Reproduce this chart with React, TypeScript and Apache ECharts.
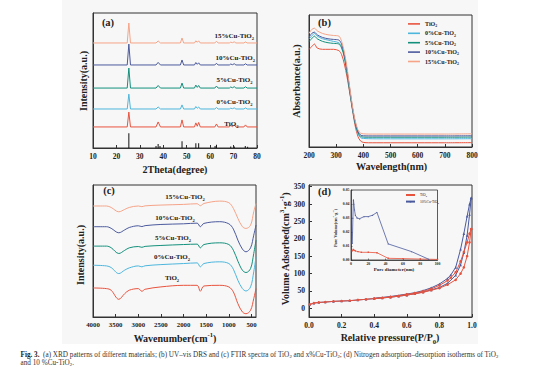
import React, { useEffect, useRef } from 'react';
import * as echarts from 'echarts';

const FONT = '"Liberation Serif", "Times New Roman", Times, serif';
const INK = '#222222';

// ---------- series names & colours ----------
const sampleNames = ['TiO2', '0%Cu-TiO2', '5%Cu-TiO2', '10%Cu-TiO2', '15%Cu-TiO2'];
const sampleColors = ['#e8533e', '#4db6dc', '#13907c', '#4b5a9d', '#f5a488'];

// ---------- (a) XRD ----------
const xrdTheta = [10, 24.6, 25.3, 26.0, 36.9, 37.8, 38.8, 47.3, 48.0, 48.7, 53.3, 53.9, 54.5, 55.1, 55.8, 62.0, 62.7, 63.4, 68.2, 68.8, 69.5, 70.3, 71.0, 74.4, 75.1, 75.8, 80];
const xrdTiO2 = [15.6, 15.6, 26.6, 15.6, 15.6, 19.3, 15.6, 15.6, 20.8, 15.6, 15.6, 18.6, 16.1, 18.9, 15.6, 15.6, 17.8, 15.6, 15.6, 16.8, 15.8, 17.1, 15.6, 15.6, 17.1, 15.6, 15.6];
const xrdCu0 = [28.9, 28.9, 39.9, 28.9, 28.9, 30.4, 28.9, 28.9, 31.9, 28.9, 28.9, 30.7, 29.4, 30.4, 28.9, 28.9, 30.0, 28.9, 28.9, 29.5, 29.1, 29.7, 28.9, 28.9, 29.7, 28.9, 28.9];
const xrdCu5 = [44.4, 44.4, 59.2, 44.4, 44.4, 46.3, 44.4, 44.4, 48.1, 44.4, 44.4, 46.6, 44.9, 46.3, 44.4, 44.4, 45.9, 44.4, 44.4, 45.2, 44.6, 45.4, 44.4, 44.4, 45.4, 44.4, 44.4];
const xrdCu10 = [61.5, 61.5, 77.0, 61.5, 61.5, 63.4, 61.5, 61.5, 65.2, 61.5, 61.5, 63.3, 62.0, 63.1, 61.5, 61.5, 62.8, 61.5, 61.5, 62.2, 61.7, 62.4, 61.5, 61.5, 62.4, 61.5, 61.5];
const xrdCu15 = [77.8, 77.8, 92.6, 77.8, 77.8, 79.3, 77.8, 77.8, 81.5, 77.8, 77.8, 79.4, 78.3, 79.4, 77.8, 77.8, 79.1, 77.8, 77.8, 78.4, 78.0, 78.6, 77.8, 77.8, 78.6, 77.8, 77.8];
const xrdAll = [xrdTiO2, xrdCu0, xrdCu5, xrdCu10, xrdCu15];
const refTheta = [25.3, 36.9, 37.8, 38.6, 48.0, 53.9, 55.1, 62.1, 62.7, 68.8, 70.3, 75.0, 76.0];
const refHeight = [11, 1.5, 3, 1.5, 5, 3.5, 3.5, 1.5, 2.5, 1.2, 1.2, 1.5, 1.0];

// ---------- (b) UV-vis DRS ----------
const uvWave = [200, 210, 220, 230, 250, 270, 290, 310, 320, 330, 340, 350, 360, 370, 380, 390, 400, 420, 450, 500, 600, 700, 800];
const uvTiO2 = [74, 76, 78, 75, 74, 74, 74, 73, 70, 63, 53, 41, 28, 16, 8, 4.5, 3.5, 3.2, 3.2, 3.2, 3.2, 3.2, 3.3];
const uvCu0 = [82, 84, 86, 84, 82, 81, 80, 79, 76, 69, 57, 43, 29, 18, 10, 7, 6.5, 6.3, 6.2, 6.2, 6.2, 6.2, 6.3];
const uvCu5 = [80, 82, 84, 82, 80, 79, 78.5, 78, 75, 68, 56, 42, 29, 18, 11, 8, 7.5, 7.4, 7.4, 7.4, 7.4, 7.4, 7.5];
const uvCu10 = [83, 86, 87, 85, 83, 82, 81.5, 81, 78, 70, 58, 44, 30, 19, 12, 9, 8.5, 8.4, 8.4, 8.4, 8.4, 8.4, 8.5];
const uvCu15 = [86, 89, 90, 88, 86, 85, 84.5, 84, 80, 72, 60, 45, 31, 20, 13, 10.5, 10, 9.8, 9.8, 9.8, 9.8, 9.8, 10];
const uvAll = [uvTiO2, uvCu0, uvCu5, uvCu10, uvCu15];

// ---------- (c) FTIR ----------
const ftirWave = [4000, 3700, 3600, 3430, 3300, 3200, 3000, 2920, 2850, 2500, 2000, 1700, 1630, 1550, 1200, 1000, 900, 800, 700, 620, 520, 450, 400];
const ftirTiO2 = [22, 21.5, 20.3, 13.4, 17.7, 20.3, 21.5, 19.5, 21, 22.8, 24, 24, 19.5, 23.5, 24, 22.8, 19, 10.1, 3.8, 2.5, 5.1, 13.9, 21.5];
const ftirCu0 = [39.2, 38.7, 37.5, 32.9, 35.5, 37.2, 38.7, 38, 38.8, 39.7, 40.5, 41, 38, 40.5, 41.8, 40.5, 36.2, 27.8, 21.5, 19.7, 22.8, 34.2, 45.6];
const ftirCu5 = [53.7, 53.7, 52.5, 48.1, 50.5, 52.4, 53.4, 52.8, 53.5, 54.2, 54.9, 55.2, 52.4, 54.9, 56.2, 54.9, 50.6, 42.3, 35.4, 33.7, 36.7, 48.1, 58.2];
const ftirCu10 = [68.4, 68.4, 67.2, 63.8, 66, 67.8, 69.1, 68.5, 69.2, 70.1, 70.6, 71.1, 68.4, 70.9, 72.2, 70.6, 66.6, 58.2, 51.4, 49.4, 52.4, 62, 69.6];
const ftirCu15 = [84.1, 84.1, 83, 79.7, 81.5, 83, 84.1, 83.6, 84.2, 84.8, 85.3, 85.8, 84.3, 86, 87.8, 86.6, 82.3, 74.7, 68.4, 67.1, 69.6, 79.7, 86];
const ftirAll = [ftirTiO2, ftirCu0, ftirCu5, ftirCu10, ftirCu15];
const ftirTicks = [4000, 3500, 3000, 2500, 2000, 1500, 1000, 500];

// ---------- (d) N2 isotherms ----------
const adsP = [0.005, 0.03, 0.06, 0.1, 0.15, 0.2, 0.25, 0.3, 0.35, 0.4, 0.45, 0.5, 0.55, 0.6, 0.65, 0.7, 0.75, 0.8, 0.85, 0.9, 0.93, 0.95, 0.97, 0.985, 0.995];
const adsTiO2 = [11, 15, 17, 18, 20, 21, 22, 24, 26, 28, 30, 32, 35, 38, 42, 46, 52, 58, 68, 82, 100, 118, 150, 190, 228];
const adsCu10 = [11, 15, 17, 18, 20, 21, 22, 24, 26, 28, 30, 32, 35, 38, 42, 47, 53, 60, 72, 95, 125, 160, 210, 270, 318];
const desP = [0.995, 0.985, 0.97, 0.95, 0.93, 0.9, 0.87, 0.85, 0.8, 0.75, 0.7, 0.65, 0.6, 0.5, 0.4];
const desTiO2 = [228, 215, 190, 162, 135, 104, 88, 80, 66, 56, 49, 44, 40, 33, 28];
const desCu10 = [318, 300, 265, 215, 170, 118, 96, 86, 70, 59, 51, 45, 41, 34, 29];
const isoTicks = [0, 50, 100, 150, 200, 250, 300, 350];

// ---------- (d) inset: pore size distribution ----------
const pvTiO2D = [1.5, 2.5, 3.5, 5, 8, 12, 20, 30, 43, 60, 80, 100];
const pvTiO2V = [0.0065, 0.0075, 0.007, 0.0065, 0.006, 0.0055, 0.0055, 0.0052, 0.0012, 0.001, 0.0007, 0.0004];
const pvCu10D = [1.5, 2.2, 2.8, 3.3, 4, 5, 7, 10, 15, 20, 25, 30, 43, 70, 90];
const pvCu10V = [0.012, 0.03, 0.043, 0.04, 0.036, 0.032, 0.03, 0.0295, 0.031, 0.031, 0.032, 0.034, 0.0115, 0.006, 0.0005];

const zip = (xs: number[], ys: number[]) => xs.map((x, i) => [x, ys[i]]);
const subTi = (s: string) => s.replace(/TiO2/g, 'TiO{s|2}');

function richSet(size: number, color = INK) {
  const small = +(size * 0.66).toFixed(2);
  return {
    s: { fontSize: small, fontFamily: FONT, fontWeight: 'bold', color, verticalAlign: 'bottom' },
    p: { fontSize: small, fontFamily: FONT, fontWeight: 'bold', color, verticalAlign: 'top' },
  };
}
function zrRich(size: number, weight = 'bold') {
  const small = +(size * 0.66).toFixed(2);
  return {
    s: { fontSize: small, fontFamily: FONT, fontWeight: weight, fill: INK, verticalAlign: 'bottom' },
    p: { fontSize: small, fontFamily: FONT, fontWeight: weight, fill: INK, verticalAlign: 'top' },
    b: { fontSize: size, fontFamily: FONT, fontWeight: 'bold', fill: INK },
  };
}
const lbl = (size: number) => ({ color: INK, fontFamily: FONT, fontWeight: 'bold', fontSize: size });

function axis(gridIndex: number, o: any) {
  return {
    type: 'value',
    gridIndex,
    axisLine: { show: true, onZero: false, lineStyle: { color: '#333', width: 1 } },
    axisTick: { show: true, inside: true, length: 3, lineStyle: { color: '#333', width: 1 } },
    axisLabel: { ...lbl(7.5), margin: 4 },
    splitLine: { show: false },
    ...o,
  };
}
const hiddenY = (gridIndex: number) =>
  axis(gridIndex, { min: 0, max: 100, axisTick: { show: false }, axisLabel: { show: false } });

// axis title drawn as text (supports sub/superscripts)
const title = (t: string, x: number, y: number, size: number, vertical = false) => ({
  type: 'text',
  x,
  y,
  rotation: vertical ? Math.PI / 2 : 0,
  silent: true,
  z: 10,
  style: {
    text: t,
    fontFamily: FONT,
    fontWeight: 'bold',
    fontSize: size,
    lineHeight: size * 1.45,
    fill: INK,
    align: 'center',
    verticalAlign: 'middle',
    rich: zrRich(size),
  },
});

function buildOption() {
  const series: any[] = [];
  // (a)
  series.push({
    type: 'bar',
    xAxisIndex: 0,
    yAxisIndex: 0,
    barWidth: 1,
    itemStyle: { color: '#111' },
    data: zip(refTheta, refHeight),
  });
  xrdAll.forEach((arr, i) =>
    series.push({
      type: 'line',
      name: 'a-' + sampleNames[i],
      xAxisIndex: 0,
      yAxisIndex: 0,
      showSymbol: false,
      symbol: 'none',
      color: sampleColors[i],
      lineStyle: { width: 1, color: sampleColors[i] },
      data: zip(xrdTheta, arr),
    })
  );
  // (b)
  uvAll.forEach((arr, i) =>
    series.push({
      type: 'line',
      name: sampleNames[i],
      xAxisIndex: 1,
      yAxisIndex: 1,
      showSymbol: false,
      symbol: 'none',
      smooth: 0.3,
      color: sampleColors[i],
      lineStyle: { width: 1, color: sampleColors[i] },
      data: zip(uvWave, arr),
    })
  );
  // (c)
  ftirAll.forEach((arr, i) =>
    series.push({
      type: 'line',
      name: 'c-' + sampleNames[i],
      xAxisIndex: 2,
      yAxisIndex: 2,
      showSymbol: false,
      symbol: 'none',
      smooth: 0.35,
      color: sampleColors[i],
      lineStyle: { width: 1, color: sampleColors[i] },
      data: zip(ftirWave, arr),
    })
  );
  // (d)
  const iso = (name: string, xs: number[], ys: number[], color: string, symbol: string) => ({
    type: 'line',
    name,
    xAxisIndex: 3,
    yAxisIndex: 3,
    symbol,
    symbolSize: 2.6,
    color,
    itemStyle: { color },
    lineStyle: { width: 1, color },
    data: zip(xs, ys),
  });
  series.push(iso('d-10%Cu-TiO2-ads', adsP, adsCu10, '#4b5a9d', 'triangle'));
  series.push(iso('d-10%Cu-TiO2-des', desP, desCu10, '#4b5a9d', 'triangle'));
  series.push(iso('d-TiO2-ads', adsP, adsTiO2, '#e8533e', 'circle'));
  series.push(iso('d-TiO2-des', desP, desTiO2, '#e8533e', 'circle'));
  // inset
  series.push({
    type: 'line',
    name: 'pv-TiO2',
    xAxisIndex: 4,
    yAxisIndex: 4,
    symbol: 'rect',
    symbolSize: 1.4,
    color: '#e8533e',
    itemStyle: { color: '#e8533e' },
    lineStyle: { width: 0.8, color: '#e8533e' },
    data: zip(pvTiO2D, pvTiO2V),
  });
  series.push({
    type: 'line',
    name: 'pv-10%Cu-TiO2',
    xAxisIndex: 4,
    yAxisIndex: 4,
    symbol: 'triangle',
    symbolSize: 1.4,
    color: '#4b5a9d',
    itemStyle: { color: '#4b5a9d' },
    lineStyle: { width: 0.8, color: '#4b5a9d' },
    data: zip(pvCu10D, pvCu10V),
  });

  const gridBox = { show: true, borderColor: '#333', borderWidth: 1, backgroundColor: 'transparent' };

  const aLabels = [
    { t: '15%Cu-TiO2', x: 254, y: 36 },
    { t: '10%Cu-TiO2', x: 255, y: 57.5 },
    { t: '5%Cu-TiO2', x: 252.5, y: 80 },
    { t: '0%Cu-TiO2', x: 252.5, y: 102 },
    { t: 'TiO2', x: 238.5, y: 123.5 },
  ];
  const cLabels = [
    { t: '15%Cu-TiO2', x: 185, y: 197 },
    { t: '10%Cu-TiO2', x: 175, y: 218 },
    { t: '5%Cu-TiO2', x: 173, y: 238 },
    { t: '0%Cu-TiO2', x: 172, y: 257 },
    { t: 'TiO2', x: 172, y: 278 },
  ];
  const sLabel = (t: string, x: number, y: number, align: string) => ({
    type: 'text',
    x,
    y,
    silent: true,
    z: 10,
    style: {
      text: subTi(t),
      fontFamily: FONT,
      fontWeight: 'bold',
      fontSize: 7,
      lineHeight: 10,
      fill: INK,
      align,
      verticalAlign: 'middle',
      rich: zrRich(7),
    },
  });
  const panelLabel = (t: string, x: number, y: number) => ({
    type: 'text',
    x,
    y,
    silent: true,
    z: 10,
    style: { text: t, fontFamily: FONT, fontWeight: 'bold', fontSize: 10.5, fill: INK, align: 'center', verticalAlign: 'middle' },
  });
  const caption = (t: string, y: number) => ({
    type: 'text',
    x: 20.5,
    y,
    silent: true,
    style: {
      text: t,
      fontFamily: FONT,
      fontWeight: 'normal',
      fontSize: 7.2,
      lineHeight: 7,
      fill: '#333',
      align: 'left',
      verticalAlign: 'middle',
      rich: zrRich(7.2, 'normal'),
    },
  });

  return {
    animation: false,
    backgroundColor: '#ffffff',
    textStyle: { fontFamily: FONT },
    grid: [
      { left: 93, top: 13, width: 164, height: 135, ...gridBox },
      { left: 309, top: 15, width: 163, height: 132, ...gridBox },
      { left: 93, top: 185, width: 163, height: 132, ...gridBox },
      { left: 309, top: 185, width: 163, height: 132, ...gridBox },
      { left: 351, top: 190, width: 86.5, height: 70, ...gridBox, borderWidth: 0.8 },
    ],
    xAxis: [
      axis(0, { min: 10, max: 80, interval: 10 }),
      axis(1, { min: 200, max: 800, interval: 100 }),
      axis(2, {
        min: 400,
        max: 4000,
        inverse: true,
        axisLabel: { ...lbl(6.8), margin: 4, customValues: ftirTicks, formatter: (v: number) => String(v) },
        axisTick: { show: true, inside: true, length: 3, customValues: ftirTicks, lineStyle: { color: '#333', width: 1 } },
      }),
      axis(3, {
        min: 0,
        max: 1,
        interval: 0.2,
        axisLabel: { ...lbl(7.5), margin: 4, formatter: (v: number) => v.toFixed(1) },
      }),
      axis(4, {
        min: 0,
        max: 100,
        interval: 20,
        axisLine: { show: true, onZero: false, lineStyle: { color: '#333', width: 0.8 } },
        axisTick: { show: true, inside: true, length: 1.5, lineStyle: { color: '#333', width: 0.6 } },
        axisLabel: { ...lbl(3.8), margin: 1.5 },
      }),
    ],
    yAxis: [
      hiddenY(0),
      hiddenY(1),
      hiddenY(2),
      axis(3, {
        min: -25,
        max: 355,
        axisLabel: { ...lbl(7.5), margin: 4, customValues: isoTicks },
        axisTick: { show: true, inside: true, length: 3, customValues: isoTicks, lineStyle: { color: '#333', width: 1 } },
      }),
      axis(4, {
        min: 0,
        max: 0.05,
        interval: 0.01,
        axisLine: { show: true, onZero: false, lineStyle: { color: '#333', width: 0.8 } },
        axisTick: { show: true, inside: true, length: 1.5, lineStyle: { color: '#333', width: 0.6 } },
        axisLabel: { ...lbl(3.8), margin: 1.5, formatter: (v: number) => v.toFixed(2) },
      }),
    ],
    legend: [
      {
        data: sampleNames,
        orient: 'vertical',
        left: 408,
        top: 20,
        padding: 0,
        icon: 'rect',
        itemWidth: 12,
        itemHeight: 1.6,
        itemGap: 1.6,
        selectedMode: false,
        formatter: (n: string) => subTi(n),
        textStyle: { ...lbl(6), lineHeight: 7.8, rich: richSet(6) },
      },
      {
        data: ['pv-TiO2', 'pv-10%Cu-TiO2'],
        orient: 'vertical',
        left: 405,
        top: 192.5,
        padding: 0,
        itemWidth: 9,
        itemHeight: 2,
        itemGap: 1.6,
        selectedMode: false,
        formatter: (n: string) => subTi(n.replace('pv-', '')),
        textStyle: { ...lbl(3.6), fontWeight: 'normal', lineHeight: 5, rich: richSet(3.6) },
      },
    ],
    series,
    graphic: [
      { type: 'rect', silent: true, z: -100, shape: { x: 62, y: 0, width: 416, height: 344 }, style: { fill: '#f7f7f7' } },
      panelLabel('(a)', 108, 22),
      panelLabel('(b)', 324.5, 22),
      panelLabel('(c)', 109, 190.5),
      panelLabel('(d)', 324.5, 191.5),
      title('2Theta(degree)', 175, 169.5, 10),
      title('Intensity(a.u.)', 83, 81, 10, true),
      title('Wavelength(nm)', 391.5, 166.5, 10),
      title('Absorbance(a.u.)', 296.5, 81, 10, true),
      title('Wavenumber(cm{p|-1})', 175, 338, 10),
      title('Intensity(a.u.)', 80, 255, 10, true),
      title('Relative pressure(P/P{s|0})', 390, 337.5, 10),
      title('Volume Adsorbed(cm{p|3}·g{p|-1})', 285, 249, 10, true),
      title('Pore diameter(nm)', 394, 269, 5),
      title('Pore Volume(cm{p|3}·g{p|-1})', 335.5, 228, 4.2, true),
      ...aLabels.map((l) => sLabel(l.t, l.x, l.y, 'right')),
      ...cLabels.map((l) => sLabel(l.t, l.x, l.y, 'center')),
      caption(
        '{b|Fig. 3.}  (a) XRD patterns of different materials; (b) UV–vis DRS and (c) FTIR spectra of TiO{s|2} and x%Cu-TiO{s|2}; (d) Nitrogen adsorption–desorption isotherms of TiO{s|2}',
        355
      ),
      caption('and 10 %Cu-TiO{s|2}.', 363),
    ],
  };
}

export default function App() {
  const ref = useRef<HTMLDivElement>(null);
  useEffect(() => {
    if (!ref.current) return;
    const chart = echarts.init(ref.current, undefined, { renderer: 'svg' });
    chart.setOption(buildOption() as any);
    return () => chart.dispose();
  }, []);
  return <div ref={ref} style={{ position: 'fixed', left: 0, top: 0, width: 554, height: 379 }} />;
}
